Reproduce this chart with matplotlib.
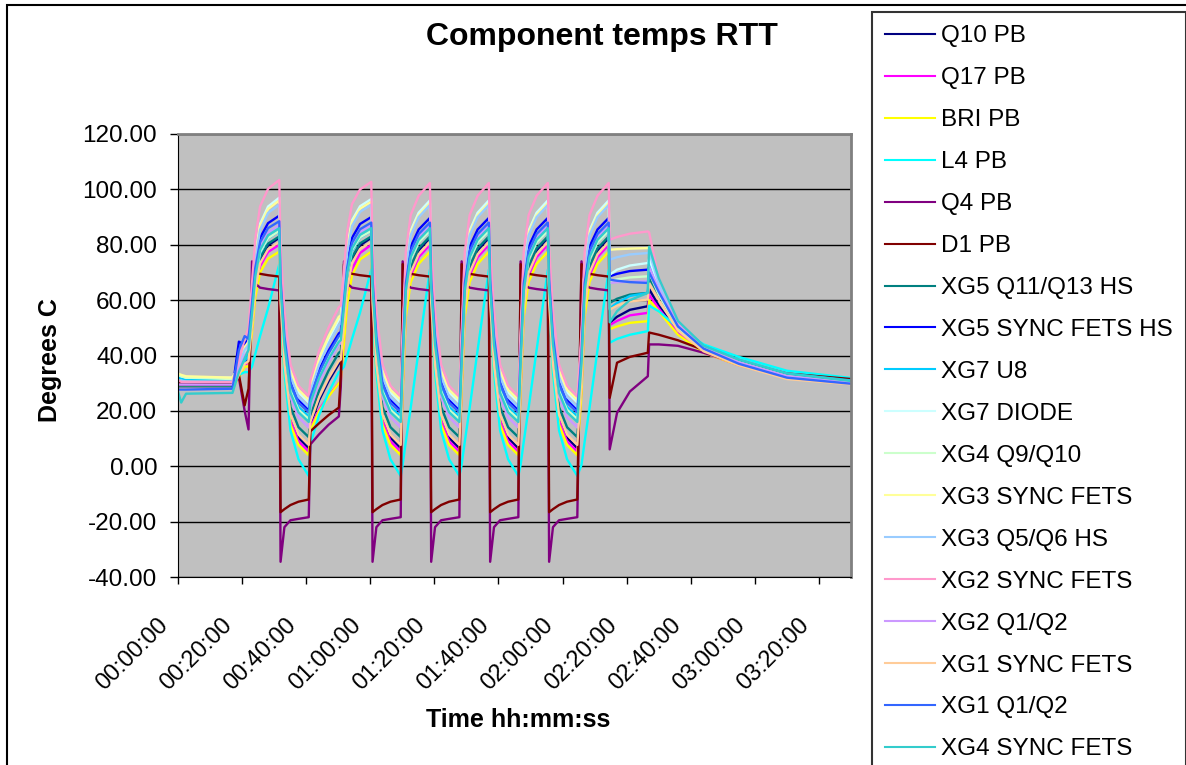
import matplotlib
matplotlib.use('Agg')
import matplotlib.pyplot as plt
import matplotlib.patches as patches
import matplotlib.transforms as mtransforms

# series names and Excel default colours
names = ['Q10 PB', 'Q17 PB', 'BRI PB', 'L4 PB', 'Q4 PB', 'D1 PB',
         'XG5 Q11/Q13 HS', 'XG5 SYNC FETS HS', 'XG7 U8', 'XG7 DIODE',
         'XG4 Q9/Q10', 'XG3 SYNC FETS', 'XG3 Q5/Q6 HS', 'XG2 SYNC FETS',
         'XG2 Q1/Q2', 'XG1 SYNC FETS', 'XG1 Q1/Q2', 'XG4 SYNC FETS']
colors = ['#000080', '#FF00FF', '#FFFF00', '#00FFFF', '#800080', '#800000',
          '#008080', '#0000FF', '#00CCFF', '#CCFFFF', '#CCFFCC', '#FFFF99',
          '#99CCFF', '#FF99CC', '#CC99FF', '#FFCC99', '#3366FF', '#33CCCC']

# time in minutes
pre_times = [0, 1, 2.5, 17, 19, 20.8, 22.0]
pre_temps = [
    [29, 29, 29, 29, 34, 38, 38],
    [28.5, 28.5, 28.5, 28.5, 33, 37, 37],
    [28.5, 28.5, 28.5, 28.5, 32, 36, 36],
    [33.5, 31.5, 31.5, 31, 33, 34, 34],
    [29.5, 29.5, 29.5, 29.5, 32, 20, 13.3],
    [30.3, 30.3, 30.3, 30, 33, 22, 28],
    [28.5, 28.5, 28.5, 28.5, 35, 40, 40],
    [28, 28, 28, 28, 45, 44, 46],
    [32, 31.5, 31.5, 31, 34, 38, 40],
    [33, 32.5, 32, 32, 36, 42, 44],
    [33, 32.5, 32, 31.5, 36, 41, 42],
    [33.5, 33, 32.5, 32, 36, 43, 45],
    [31, 31, 30.5, 30.5, 37, 42, 44],
    [31, 30.5, 30.5, 30.5, 38, 46, 50],
    [29.5, 29.5, 29.5, 29.5, 35, 40, 42],
    [28, 28, 28, 28, 33, 37, 38],
    [27.7, 27.7, 27.7, 28, 42, 47, 46],
    [27, 23, 26.2, 26.5, 34, 39, 42],
]

cycle_starts = [22.6, 51.3, 69.6, 88.0, 106.4, 125.4]
heat_offsets = [0.5, 1.5, 3.0, 5.5, 9.0]
cool_offsets = [9.4, 10.6, 12.5, 15.0, 18.2]

heat_first = [
    [51.4, 64.7, 74.5, 79.8, 82.5],
    [49.9, 62.8, 72.3, 77.4, 80.0],
    [48.5, 60.9, 70.0, 75.0, 77.5],
    [36.0, 40.5, 47.0, 57.0, 73.0],
    [74.0, 66.0, 64.5, 64.0, 63.5],
    [60.0, 70.0, 69.5, 69.0, 68.5],
    [52.9, 65.8, 75.3, 80.4, 83.0],
    [59.4, 72.7, 82.5, 87.8, 90.5],
    [53.5, 67.0, 76.9, 82.3, 85.0],
    [59.9, 75.8, 87.5, 93.8, 97.0],
    [54.9, 67.8, 77.3, 82.4, 85.0],
    [60.3, 75.6, 86.8, 92.9, 96.0],
    [59.2, 74.3, 85.4, 91.5, 94.5],
    [66.0, 82.0, 93.8, 100.2, 103.4],
    [55.5, 69.0, 78.9, 84.3, 87.0],
    [50.9, 63.8, 73.3, 78.4, 81.0],
    [58.8, 71.5, 80.9, 86.0, 88.5],
    [55.2, 68.4, 78.1, 83.4, 86.0],
]

heat_second = [
    [51.0, 64.5, 74.4, 79.8, 82.5],
    [45.4, 60.2, 71.1, 77.0, 80.0],
    [44.6, 58.7, 69.0, 74.7, 77.5],
    [36.0, 40.0, 46.0, 55.5, 71.0],
    [74.0, 66.0, 64.5, 64.0, 63.5],
    [73.0, 70.5, 69.5, 69.0, 68.5],
    [54.0, 66.4, 75.5, 80.5, 83.0],
    [61.0, 73.4, 82.5, 87.5, 90.0],
    [56.7, 68.8, 77.7, 82.6, 85.0],
    [66.4, 79.3, 88.8, 93.9, 96.5],
    [58.0, 69.6, 78.1, 82.7, 85.0],
    [66.8, 79.1, 88.1, 93.0, 95.5],
    [64.4, 77.3, 86.8, 91.9, 94.5],
    [71.4, 84.8, 94.7, 100.0, 102.7],
    [57.3, 70.0, 79.4, 84.5, 87.0],
    [51.3, 64.0, 73.4, 78.5, 81.0],
    [59.7, 71.8, 80.7, 85.6, 88.0],
    [57.7, 69.8, 78.7, 83.6, 86.0],
]

heat_std = [
    [29.3, 58.2, 71.1, 78.0, 82.5],
    [27.7, 56.1, 68.8, 75.5, 80.0],
    [26.1, 54.0, 66.5, 73.1, 77.5],
    [0.5, 9.0, 21.0, 42.0, 71.0],
    [74.0, 66.0, 64.5, 64.0, 63.5],
    [73.0, 70.5, 69.5, 69.0, 68.5],
    [32.3, 59.8, 72.1, 78.7, 83.0],
    [41.3, 67.6, 79.3, 85.5, 89.7],
    [38.1, 63.6, 75.0, 81.0, 85.0],
    [44.9, 72.6, 85.1, 91.6, 96.0],
    [37.4, 63.2, 74.8, 80.9, 85.0],
    [45.3, 72.3, 84.4, 90.7, 95.0],
    [43.2, 71.0, 83.4, 90.0, 94.4],
    [48.3, 77.6, 90.7, 97.7, 102.3],
    [35.9, 63.6, 76.1, 82.6, 87.0],
    [29.7, 57.5, 70.0, 76.6, 81.0],
    [40.1, 66.1, 77.7, 83.9, 88.0],
    [37.0, 63.6, 75.5, 81.8, 86.0],
]

cool_temps = [
    [59.7, 36.9, 17.9, 10.3, 6.5],
    [57.6, 35.2, 16.5, 9.0, 5.3],
    [55.5, 33.4, 15.0, 7.7, 4.0],
    [56.1, 33.8, 12.9, 2.5, -3.5],
    [-34.5, -22.0, -19.5, -19.0, -18.4],
    [-16.6, -15.5, -14.0, -12.8, -12.0],
    [61.3, 39.5, 21.4, 14.1, 10.5],
    [68.9, 48.2, 30.9, 24.0, 20.5],
    [64.9, 44.8, 28.1, 21.4, 18.0],
    [74.1, 52.2, 34.0, 26.7, 23.0],
    [64.6, 44.2, 27.2, 20.4, 17.0],
    [73.7, 52.4, 34.7, 27.6, 24.0],
    [72.5, 50.5, 32.3, 25.0, 21.3],
    [79.2, 56.0, 36.8, 29.1, 25.2],
    [65.1, 43.2, 25.0, 17.7, 14.0],
    [59.0, 37.0, 18.7, 11.4, 7.7],
    [67.5, 46.9, 29.8, 22.9, 19.5],
    [65.0, 44.0, 26.5, 19.5, 16.0],
]

# slow warm-up after the first cool-down
warm_times = [41.3, 44.0, 47.0, 50.2, 50.8]
warm_temps = [
    [15, 23.8, 30.8, 37, 37.5],
    [14, 20.4, 25.5, 30, 30.5],
    [13, 19.8, 25.2, 30, 30.5],
    [8, 18.4, 26.7, 34, 34.5],
    [7.9, 11.5, 15, 18, 28.8],
    [12.6, 15.5, 18.5, 21.2, 33],
    [18, 27.2, 34.6, 41, 41.5],
    [26, 34.8, 41.8, 48, 48.5],
    [23, 31.4, 38.1, 44, 44.5],
    [28, 38, 46, 53, 53.5],
    [23, 32.2, 39.6, 46, 46.5],
    [29, 39, 47, 54, 54.5],
    [27, 36.6, 44.3, 51, 51.5],
    [31, 41.6, 50.1, 57.5, 58],
    [21, 30.2, 37.6, 44, 44.5],
    [16, 24.8, 31.8, 38, 38.5],
    [25, 33.8, 40.8, 47, 47.5],
    [23, 31.8, 38.8, 45, 45.5],
]

# last partial cycle and cool-down
tail_times = [134.7, 137, 141, 146.6, 147.0, 150, 156, 164, 175, 190, 210]
tail_temps = [
    [51.8, 54, 56.5, 57.8, 64, 58, 48.5, 41.5, 37, 32.5, 30],
    [51, 52.5, 54.5, 55.4, 62, 57, 48, 41, 36.5, 32, 29.8],
    [49.5, 50.5, 51.8, 52.4, 60, 56, 47.5, 41, 36.5, 32, 29.8],
    [44.6, 46, 47.5, 48.8, 58, 56, 50, 44, 39.5, 34.5, 31.9],
    [6.1, 19.3, 27, 32.5, 44, 44, 43.5, 41, 37, 32.5, 30.5],
    [24.7, 37.4, 39.5, 41, 48.3, 47.5, 45.5, 42, 38, 33.5, 31.5],
    [59, 60.5, 62, 62.6, 68, 62, 50, 42, 37, 32, 29.8],
    [68.6, 69.5, 70.5, 71, 72, 64, 51, 42.5, 37.5, 32.5, 30],
    [57, 59, 61.5, 62.6, 74, 66, 52, 43.5, 38.5, 33.5, 31],
    [69.2, 71, 72.5, 73.4, 75, 65, 51, 42.5, 37.5, 32.5, 30],
    [66.8, 67.5, 68.2, 68.6, 70, 62, 50, 42, 37, 32, 29.8],
    [78.2, 78.4, 78.6, 78.8, 79, 67, 51.5, 43, 37.5, 32.5, 30],
    [74.6, 75.5, 76.5, 77, 77.5, 66, 51, 42.5, 37.5, 32.5, 30],
    [81.8, 82.8, 84, 84.8, 84.5, 68, 52, 43, 37.5, 32.5, 30],
    [66.2, 66.5, 66.6, 66.8, 72, 64, 51, 42.5, 37.5, 32.5, 30],
    [56.6, 58, 59.5, 60.2, 66, 60, 49, 41.5, 36.5, 31.5, 29.6],
    [67.4, 67, 66.5, 66.2, 70, 63, 50.5, 42.5, 37, 32, 29.8],
    [52, 56, 60, 62.6, 79.3, 68, 52.5, 43.5, 38.5, 33.5, 30.8],
]

xtick_minutes = [0, 20, 40, 60, 80, 100, 120, 140, 160, 180, 200]
xtick_labels = ['00:00:00', '00:20:00', '00:40:00', '01:00:00', '01:20:00',
                '01:40:00', '02:00:00', '02:20:00', '02:40:00', '03:00:00',
                '03:20:00']
ytick_values = [-40, -20, 0, 20, 40, 60, 80, 100, 120]
ytick_labels = ['-40.00', '-20.00', '0.00', '20.00', '40.00', '60.00',
                '80.00', '100.00', '120.00']

plt.rcParams['font.family'] = ['Liberation Sans', 'DejaVu Sans']

W, H = 1186, 765
fig = plt.figure(figsize=(W / 100, H / 100), dpi=100)
ax = fig.add_axes([178 / W, 1 - 577 / H, 673 / W, 443 / H])
ax.set_facecolor('#C0C0C0')

for i, name in enumerate(names):
    t = list(pre_times)
    v = list(pre_temps[i])
    for k, cs in enumerate(cycle_starts):
        if k == 0:
            heat = heat_first[i]
        elif k == 1:
            heat = heat_second[i]
        else:
            heat = heat_std[i]
        t += [cs + o for o in heat_offsets]
        v += heat
        if k < len(cycle_starts) - 1:
            t += [cs + o for o in cool_offsets]
            v += cool_temps[i]
        if k == 0:
            t += warm_times
            v += warm_temps[i]
    t += tail_times
    v += tail_temps[i]
    ax.plot(t, v, color=colors[i], lw=1.7, label=name)

ax.set_xlim(0, 210)
ax.set_ylim(-40, 120)
ax.set_yticks(ytick_values)
ax.set_yticklabels(ytick_labels, fontsize=17.5)
ax.set_xticks(xtick_minutes)
ax.tick_params(axis='x', direction='out', length=5, width=1, labelbottom=False)
ax.tick_params(axis='y', direction='out', length=6, width=1, pad=9)

# rotated time labels, placed a little below-left of each tick
lab_tr = mtransforms.offset_copy(ax.get_xaxis_transform(), fig=fig,
                                 x=-13, y=-45, units='dots')
for m, lab in zip(xtick_minutes, xtick_labels):
    ax.text(m, 0, lab, transform=lab_tr, fontsize=17, rotation=45,
            ha='right', va='center', rotation_mode='anchor', clip_on=False)

ax.grid(axis='y', color='black', lw=1)
ax.set_axisbelow(True)
for s in ['top', 'right']:
    ax.spines[s].set_color('#808080')
    ax.spines[s].set_linewidth(2)
ax.spines['left'].set_color('black')
ax.spines['bottom'].set_color('black')

fig.text(602 / W, 1 - 45 / H, 'Component temps RTT', fontsize=23,
         fontweight='bold', ha='center', va='baseline')
fig.text(50 / W, 1 - 360 / H, 'Degrees C', fontsize=18, fontweight='bold',
         rotation=90, ha='center', va='center')
fig.text(518 / W, 1 - 720 / H, 'Time hh:mm:ss', fontsize=18,
         fontweight='bold', ha='center', va='center')

leg = fig.legend(loc='upper left', bbox_to_anchor=(872 / W, 1 - 12 / H),
                 fontsize=17.5, frameon=True, fancybox=False, borderaxespad=0,
                 borderpad=0.55, handlelength=2.05, handletextpad=0.25,
                 labelspacing=0.82)
leg.get_frame().set_edgecolor('black')
leg.get_frame().set_linewidth(1.5)
for line in leg.get_lines():
    line.set_linewidth(1.5)

# chart-area border
fig.patches.append(patches.Rectangle((7 / W, -0.05), 1.2, 1 - 5 / H + 0.05,
                                     transform=fig.transFigure, fill=False,
                                     edgecolor='black', lw=1.5))

fig.savefig('out.png', dpi=100)
